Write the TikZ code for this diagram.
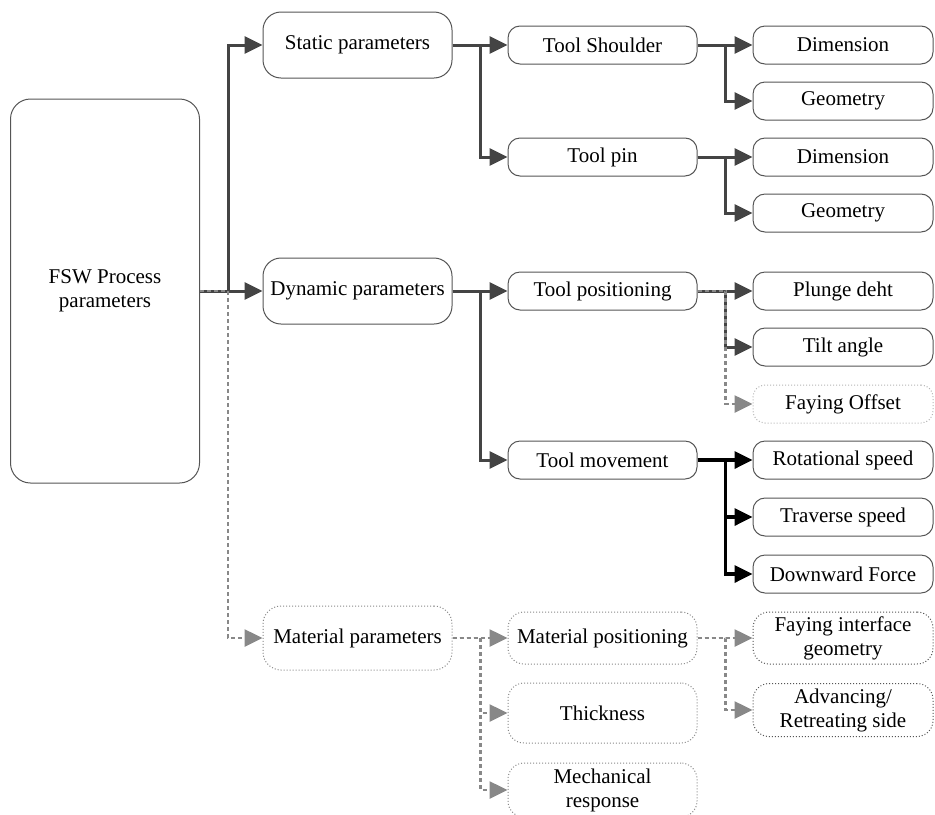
\documentclass[tikz,border=0pt]{standalone}
\usepackage{fontspec}
\setmainfont{Liberation Serif}
\usetikzlibrary{arrows.meta}

\definecolor{boxline}{HTML}{555555}
\definecolor{linkdark}{HTML}{444444}
\definecolor{linkgray}{HTML}{888888}
\definecolor{faintline}{HTML}{B4B4B4}

\tikzset{
	pbox/.style={draw=boxline,line width=0.5pt,rounded corners=6pt,align=center,inner sep=2pt,font=\fontsize{10.5}{12}\selectfont},
	bigbox/.style={pbox,rounded corners=9pt,minimum width=94.5pt,minimum height=33pt},
	midbox/.style={pbox,minimum width=94.5pt,minimum height=19pt},
	endbox/.style={pbox,minimum width=90pt,minimum height=19pt},
	matbox/.style={draw=linkgray,densely dotted},
	link/.style={draw=linkdark,line width=1.5pt,-{Triangle[length=9pt,width=8.5pt]}},
	blacklink/.style={draw=black,line width=1.7pt,-{Triangle[length=9pt,width=8.5pt]}},
	dotlink/.style={draw=linkgray,line width=1.3pt,dash pattern=on 2pt off 1.5pt,-{Triangle[length=9pt,width=8.5pt,fill=linkgray]}}
}

\begin{document}
\begin{tikzpicture}[x=0.5pt,y=-0.5pt]
		\useasboundingbox (0,0) rectangle (935,814);

		% Root
		\node[pbox,rounded corners=10pt,minimum width=94.5pt,minimum height=192pt] (fsw) at (105,291) {FSW Process\\parameters};

		% Second column
		\node[bigbox] (static) at (357.5,45) {Static parameters};
		\node[bigbox] (dynamic) at (357.5,291) {Dynamic parameters};
		\node[bigbox,matbox,minimum height=32pt] (material) at (357.5,638) {Material parameters};

		% Third column
		\node[midbox] (shoulder) at (602.5,45) {Tool Shoulder};
		\node[midbox] (pin) at (602.5,157) {Tool pin};
		\node[midbox] (tpos) at (602.5,291) {Tool positioning};
		\node[midbox] (tmove) at (602.5,460) {Tool movement};
		\node[midbox,matbox,rounded corners=8pt,minimum height=26pt] (mpos) at (602.5,638) {Material positioning};
		\node[midbox,matbox,rounded corners=8pt,minimum height=30pt] (thick) at (602.5,713) {Thickness};
		\node[midbox,matbox,rounded corners=8pt,minimum height=27pt] (mech) at (602.5,790) {Mechanical\\response};

		% Fourth column
		\node[endbox] (dim1) at (843,45) {Dimension};
		\node[endbox] (geo1) at (843,101) {Geometry};
		\node[endbox] (dim2) at (843,157) {Dimension};
		\node[endbox] (geo2) at (843,213) {Geometry};
		\node[endbox] (plunge) at (843,291) {Plunge deht};
		\node[endbox] (tilt) at (843,347) {Tilt angle};
		\node[endbox,draw=faintline,densely dotted] (offset) at (843,404) {Faying Offset};
		\node[endbox] (rot) at (843,460) {Rotational speed};
		\node[endbox] (trav) at (843,517) {Traverse speed};
		\node[endbox] (down) at (843,574) {Downward Force};
		\node[endbox,densely dotted,rounded corners=8pt,minimum height=26pt] (fint) at (843,638) {Faying interface\\geometry};
		\node[endbox,densely dotted,rounded corners=8pt,minimum height=26.5pt] (adv) at (843,710) {Advancing/\\Retreating side};

		% Solid connectors
		\draw[link] (fsw.east) -- (dynamic.west);
		\draw[link] (fsw.east) -- ++(28,0) |- (static.west);
		\draw[link] (static.east) -- (shoulder.west);
		\draw[link] (static.east) -- ++(28,0) |- (pin.west);
		\draw[link] (shoulder.east) -- (dim1.west);
		\draw[link] (shoulder.east) -- ++(28,0) |- (geo1.west);
		\draw[link] (pin.east) -- (dim2.west);
		\draw[link] (pin.east) -- ++(28,0) |- (geo2.west);
		\draw[link] (dynamic.east) -- (tpos.west);
		\draw[link] (dynamic.east) -- ++(28,0) |- (tmove.west);
		\draw[link] (tpos.east) -- (plunge.west);
		\draw[link] (tpos.east) -- ++(28,0) |- (tilt.west);
		\draw[blacklink] (tmove.east) -- (rot.west);
		\draw[blacklink] (tmove.east) -- ++(28,0) |- (trav.west);
		\draw[blacklink] (tmove.east) -- ++(28,0) |- (down.west);

		% Dotted connectors
		\draw[dotlink] (fsw.east) -- ++(28,0) |- (material.west);
		\draw[dotlink] (tpos.east) -- ++(28,0) |- (offset.west);
		\draw[dotlink] (material.east) -- (mpos.west);
		\draw[dotlink] (material.east) -- ++(28,0) |- (thick.west);
		\draw[dotlink] (material.east) -- ++(28,0) |- (mech.west);
		\draw[dotlink] (mpos.east) -- (fint.west);
		\draw[dotlink] (mpos.east) -- ++(28,0) |- (adv.west);
	\end{tikzpicture}
\end{document}
